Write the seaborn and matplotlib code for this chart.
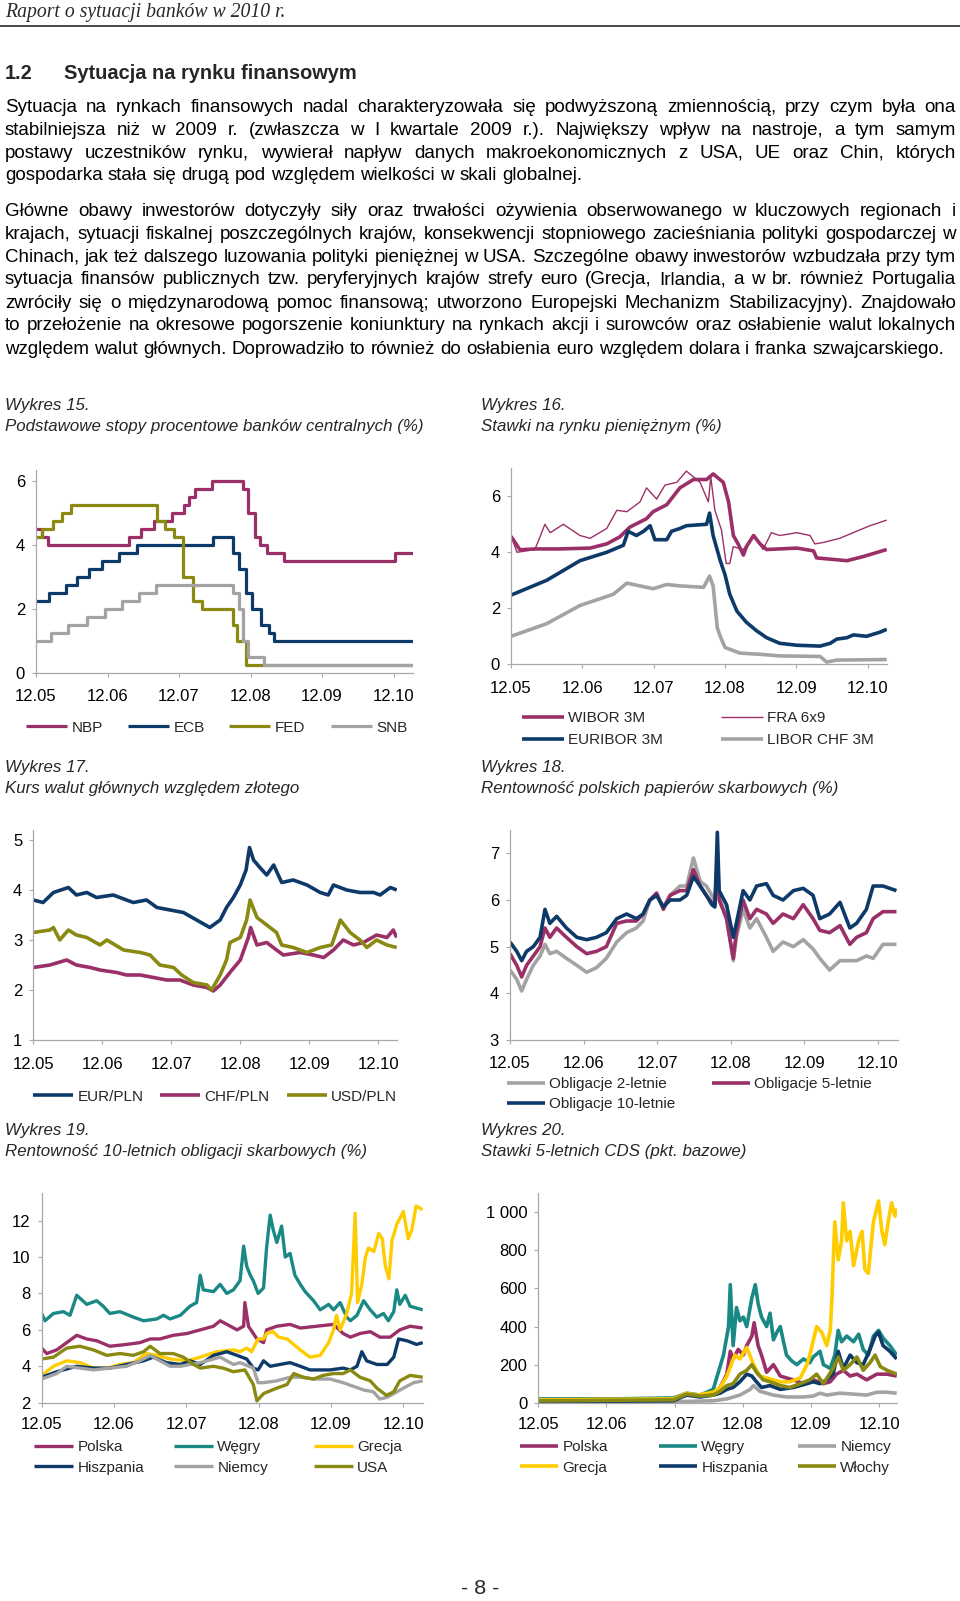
import matplotlib
matplotlib.use("Agg")
import matplotlib.pyplot as plt
import seaborn as sns
import pandas as pd
from matplotlib.lines import Line2D

# ---------------------------------------------------------------- data
XTICK_M = [0, 12, 24, 36, 48, 60]
XTICK_LABELS = ["12.05", "12.06", "12.07", "12.08", "12.09", "12.10"]

# Wykres 15 - policy rates (step data, month index from 12.05)
NBP_M = [0, 1, 2, 15.6, 17.7, 19.8, 22.9, 24.9, 25.7, 26.6, 29.6, 34.7, 35.6, 36.7, 37.5, 38.7, 41.6, 60.3, 63.2]
NBP_V = [4.5, 4.25, 4.0, 4.25, 4.5, 4.75, 5.0, 5.25, 5.5, 5.75, 6.0, 5.75, 5.0, 4.25, 4.0, 3.75, 3.5, 3.75, 3.75]
ECB_M = [0, 2.1, 5.0, 6.9, 8.9, 11.0, 14.0, 16.9, 29.7, 33.0, 34.0, 35.2, 36.3, 37.8, 39.1, 40.0, 63.2]
ECB_V = [2.25, 2.5, 2.75, 3.0, 3.25, 3.5, 3.75, 4.0, 4.25, 3.75, 3.25, 2.5, 2.0, 1.5, 1.25, 1.0, 1.0]
FED_M = [0, 1.0, 2.8, 4.3, 5.8, 20.3, 21.6, 23.2, 24.6, 26.4, 27.8, 33.1, 33.7, 35.3, 63.2]
FED_V = [4.25, 4.5, 4.75, 5.0, 5.25, 4.75, 4.5, 4.25, 3.0, 2.25, 2.0, 1.5, 1.0, 0.25, 0.25]
SNB_M = [0, 2.6, 5.4, 8.5, 11.5, 14.4, 17.2, 20.2, 33.1, 34.1, 34.7, 35.6, 38.2, 63.2]
SNB_V = [1.0, 1.25, 1.5, 1.75, 2.0, 2.25, 2.5, 2.75, 2.5, 2.0, 1.0, 0.5, 0.25, 0.25]

# Wykres 16 - money market rates
WIBOR_M = [0, 1.5, 4, 8, 13.3, 16.1, 18.3, 20.0, 22.8, 23.9, 26.2, 28.4, 30.7, 32.9, 34.0, 35.7, 36.6, 37.4, 38.2,
           39.1, 39.6, 40.8, 41.9, 43.0, 48.1, 50.9, 51.4, 56.5, 59.3, 63.2]
WIBOR_V = [4.57, 4.09, 4.12, 4.12, 4.15, 4.3, 4.55, 4.9, 5.2, 5.45, 5.7, 6.3, 6.6, 6.6, 6.8, 6.5, 5.8, 4.6, 4.3,
           3.9, 4.2, 4.6, 4.3, 4.1, 4.15, 4.05, 3.8, 3.7, 3.85, 4.1]
FRA_M = [0, 1.0, 4.0, 4.6, 5.7, 6.6, 8.8, 11.6, 13.3, 16.1, 17.8, 19.5, 21.7, 22.8, 24.5, 25.9, 27.9, 29.5, 31.8,
         33.2, 33.6, 34.3, 35.4, 36.2, 36.8, 37.4, 39.1, 40.8, 42.4, 43.8, 45.2, 48.1, 50.3, 51.1, 52.5, 55.3, 58.1,
         60.4, 63.2]
FRA_V = [4.6, 4.0, 4.1, 4.4, 5.0, 4.7, 5.0, 4.6, 4.5, 4.85, 5.5, 5.45, 5.8, 6.3, 5.9, 6.4, 6.5, 6.9, 6.5,
         5.8, 6.7, 5.5, 4.8, 3.6, 3.6, 4.2, 4.1, 4.6, 4.1, 4.7, 4.6, 4.7, 4.6, 4.3, 4.35, 4.5, 4.75,
         4.95, 5.15]
EURIBOR_M = [0, 6.0, 11.6, 16.1, 18.9, 19.7, 21.1, 22.3, 23.4, 24.2, 26.2, 27.0, 28.4, 29.5, 32.9, 33.4, 34.0, 35.2,
             36.0, 36.8, 38.0, 39.6, 41.3, 43.0, 45.2, 48.1, 52.0, 53.7, 54.8, 56.5, 57.6, 59.8, 62.1, 63.2]
EURIBOR_V = [2.47, 3.0, 3.7, 4.0, 4.25, 4.75, 4.6, 4.75, 4.95, 4.45, 4.45, 4.75, 4.85, 4.95, 5.0, 5.4, 4.6, 3.7,
             3.2, 2.5, 1.9, 1.5, 1.2, 0.95, 0.75, 0.68, 0.65, 0.75, 0.9, 0.95, 1.05, 1.0, 1.15, 1.25]
LIBOR_M = [0, 6.0, 11.6, 17.2, 19.5, 22.8, 23.9, 26.2, 28.4, 32.4, 33.4, 34.0, 34.7, 35.2, 36.0, 38.5, 42.4, 45.2,
           52.0, 53.1, 54.8, 63.2]
LIBOR_V = [1.0, 1.45, 2.1, 2.5, 2.9, 2.75, 2.7, 2.85, 2.8, 2.75, 3.15, 2.8, 1.3, 1.0, 0.6, 0.4, 0.35, 0.3,
           0.28, 0.08, 0.15, 0.17]

# Wykres 17 - exchange rates
EURPLN_M = [0, 1.7, 3.5, 6.1, 7.5, 9.3, 11.0, 13.9, 16.2, 17.4, 19.7, 21.5, 23.8, 26.1, 28.4, 30.7, 32.5, 33.6, 34.8,
            36.0, 37.0, 37.6, 38.3, 39.4, 40.6, 41.8, 43.2, 45.2, 47.6, 49.9, 51.3, 52.2, 54.5, 56.8, 59.2, 60.3,
            62.1, 63.2]
EURPLN_V = [3.8, 3.75, 3.95, 4.05, 3.9, 3.95, 3.85, 3.9, 3.8, 3.75, 3.8, 3.65, 3.6, 3.55, 3.4, 3.25, 3.4, 3.65, 3.85,
            4.1, 4.4, 4.85, 4.6, 4.45, 4.3, 4.5, 4.15, 4.2, 4.1, 3.95, 3.9, 4.1, 4.0, 3.95, 3.95, 3.9, 4.05, 4.0]
CHFPLN_M = [0, 2.9, 5.8, 7.5, 9.9, 11.6, 14.5, 16.2, 18.6, 20.9, 23.2, 25.5, 27.8, 30.2, 31.3, 32.5, 34.2, 36.0,
            37.4, 37.8, 38.9, 40.6, 42.3, 43.5, 46.4, 48.7, 50.5, 52.2, 53.9, 55.7, 57.4, 59.7, 61.5, 62.6, 63.2]
CHFPLN_V = [2.45, 2.5, 2.6, 2.5, 2.45, 2.4, 2.35, 2.3, 2.3, 2.25, 2.2, 2.2, 2.1, 2.05, 1.98, 2.1, 2.35, 2.6,
            3.05, 3.25, 2.9, 2.95, 2.8, 2.7, 2.75, 2.7, 2.65, 2.8, 3.0, 2.9, 2.95, 3.1, 3.05, 3.2, 3.05]
USDPLN_M = [0, 2.9, 3.5, 4.6, 6.1, 7.5, 9.3, 11.6, 12.8, 15.7, 18.6, 20.3, 22.0, 24.4, 25.8, 27.8, 30.2, 31.0, 32.5,
            33.6, 34.2, 36.0, 37.1, 37.7, 38.9, 40.6, 42.3, 43.2, 45.2, 47.6, 49.9, 51.9, 53.4, 55.1, 56.8, 58.0,
            59.7, 61.5, 63.2]
USDPLN_V = [3.15, 3.2, 3.25, 3.0, 3.2, 3.1, 3.05, 2.9, 3.0, 2.8, 2.75, 2.7, 2.5, 2.45, 2.3, 2.15, 2.1, 2.0, 2.3,
            2.6, 2.95, 3.05, 3.4, 3.8, 3.45, 3.3, 3.15, 2.9, 2.85, 2.75, 2.85, 2.9, 3.4, 3.15, 3.0, 2.85,
            3.0, 2.9, 2.85]

# Wykres 18 - Polish treasury yields
BOND_M = [0, 1.1, 1.9, 2.7, 3.8, 4.9, 5.7, 6.5, 7.6, 9.2, 10.9, 12.5, 14.1, 15.7, 17.4, 19.0, 20.6, 21.7, 22.8, 23.9,
          25.0, 26.1, 27.7, 28.8, 29.9, 31.0, 32.0, 32.9, 33.4, 33.8, 34.1, 35.3, 36.4, 36.9, 38.0, 39.1, 40.2, 41.8,
          42.9, 44.5, 46.2, 47.8, 49.4, 50.5, 52.1, 53.8, 55.4, 56.5, 58.1, 59.2, 60.8, 63.0]
BOND2_V = [4.5, 4.3, 4.05, 4.3, 4.6, 4.8, 5.05, 4.85, 4.9, 4.75, 4.6, 4.45, 4.55, 4.75, 5.1, 5.3, 5.4, 5.55, 6.0, 6.1,
           5.85, 6.1, 6.3, 6.3, 6.9, 6.4, 6.3, 6.1, 6.0, 6.5, 6.1, 5.6, 4.7, 5.2, 5.8, 5.4, 5.6, 5.2, 4.9, 5.1,
           5.0, 5.15, 4.95, 4.75, 4.5, 4.7, 4.7, 4.7, 4.8, 4.75, 5.05, 5.05]
BOND5_V = [4.85, 4.6, 4.35, 4.6, 4.8, 5.0, 5.4, 5.2, 5.4, 5.2, 5.0, 4.85, 4.9, 5.0, 5.5, 5.55, 5.55, 5.7, 6.0, 6.15,
           5.8, 6.1, 6.2, 6.2, 6.65, 6.3, 6.1, 5.95, 5.9, 6.9, 6.0, 5.6, 4.75, 5.3, 6.0, 5.6, 5.8, 5.7, 5.5, 5.7,
           5.6, 5.9, 5.6, 5.35, 5.3, 5.45, 5.05, 5.2, 5.3, 5.6, 5.75, 5.75]
BOND10_V = [5.1, 4.9, 4.7, 4.9, 5.0, 5.2, 5.8, 5.5, 5.65, 5.4, 5.2, 5.15, 5.2, 5.3, 5.6, 5.7, 5.6, 5.7, 6.0, 6.1,
            5.85, 6.0, 6.0, 6.1, 6.5, 6.3, 6.1, 5.9, 5.85, 7.45, 6.2, 5.9, 5.2, 5.5, 6.2, 6.0, 6.3, 6.35, 6.1, 6.0,
            6.2, 6.25, 6.1, 5.6, 5.7, 5.95, 5.4, 5.5, 5.8, 6.3, 6.3, 6.2]

# Wykres 19 - 10Y government bond yields
Y_PL_M = [0, 0.83, 2.49, 4.15, 5.81, 7.47, 9.13, 11.3, 14.1, 16.3, 18.0, 19.6, 21.8, 24.1, 26.3, 28.5, 29.6, 31.3,
          32.4, 33.5, 33.7, 34.3, 35.7, 36.8, 37.3, 39.0, 41.2, 42.9, 45.6, 48.4, 50.0, 51.2, 52.8, 54.5, 56.1, 57.8,
          59.4, 61.1, 63.2]
Y_PL_V = [5.0, 4.7, 4.9, 5.3, 5.7, 5.5, 5.4, 5.1, 5.2, 5.3, 5.5, 5.5, 5.7, 5.8, 6.0, 6.2, 6.5, 6.2, 6.0, 6.2,
          7.5, 6.2, 5.5, 5.3, 6.0, 6.2, 6.3, 6.1, 6.2, 6.3, 5.8, 5.6, 5.8, 5.9, 5.6, 5.6, 6.0, 6.2, 6.1]
Y_HU_M = [0, 0.55, 1.94, 3.59, 4.70, 5.81, 7.47, 9.13, 10.2, 11.3, 13.0, 15.2, 16.9, 19.1, 20.2, 21.3, 23.0, 24.6,
          25.7, 26.3, 26.8, 28.5, 29.6, 30.7, 31.8, 32.9, 33.5, 34.0, 34.6, 35.1, 35.9, 36.8, 37.3, 37.9, 38.4, 39.0,
          39.8, 40.4, 41.2, 42.0, 42.9, 43.7, 45.1, 46.2, 47.6, 48.4, 49.5, 50.6, 51.2, 52.3, 53.4, 54.5, 55.6, 56.7,
          57.5, 58.4, 58.9, 59.4, 60.3, 61.1, 63.2]
Y_HU_V = [6.9, 6.5, 6.9, 7.0, 6.8, 7.9, 7.4, 7.6, 7.3, 6.9, 7.0, 6.7, 6.5, 6.6, 6.8, 6.6, 6.8, 7.3, 7.5, 9.0,
          8.2, 8.1, 8.5, 8.0, 8.2, 8.7, 10.6, 9.5, 9.0, 8.7, 8.0, 8.3, 10.5, 12.3, 11.5, 10.8, 11.7, 10.0, 10.2, 9.0,
          8.5, 8.1, 7.6, 7.1, 7.4, 7.1, 7.5, 6.7, 6.5, 6.8, 7.6, 7.1, 6.7, 6.9, 6.5, 7.0, 8.2, 7.4, 7.9, 7.3, 7.1]
Y_GR_M = [0, 1.94, 4.15, 6.36, 8.57, 10.8, 13.0, 15.2, 17.4, 19.1, 21.3, 24.1, 26.3, 29.0, 31.8, 32.9, 34.0, 34.8,
          35.9, 36.8, 37.3, 38.4, 39.3, 40.7, 41.8, 42.9, 44.5, 46.2, 47.6, 48.4, 48.9, 49.5, 50.6, 51.4, 52.0, 52.4,
          53.1, 53.7, 54.2, 55.1, 55.9, 56.5, 57.0, 57.6, 58.1, 58.9, 60.0, 60.8, 61.4, 62.1, 63.2]
Y_GR_V = [3.5, 4.0, 4.3, 4.2, 3.9, 3.9, 4.1, 4.2, 4.7, 4.6, 4.4, 4.3, 4.5, 4.8, 4.9, 4.8, 5.0, 4.8, 5.5, 5.5,
          5.8, 5.9, 5.6, 5.5, 5.2, 4.9, 4.5, 4.6, 5.3, 6.0, 6.8, 6.0, 6.9, 8.0, 12.4, 7.5, 8.5, 10.0, 10.5, 10.3,
          11.3, 11.0, 9.5, 8.8, 10.9, 11.8, 12.5, 11.0, 11.5, 12.8, 12.6]
Y_ES_M = [0, 2.49, 5.81, 8.57, 11.3, 14.1, 16.9, 18.5, 20.7, 23.0, 24.6, 26.3, 28.5, 30.7, 32.4, 34.0, 35.1, 35.9,
          36.8, 37.9, 39.5, 41.2, 42.9, 44.5, 46.2, 47.8, 50.0, 51.2, 52.3, 53.1, 53.9, 55.6, 57.3, 58.4, 59.2, 60.6,
          62.2, 63.2]
Y_ES_V = [3.4, 3.7, 4.0, 3.9, 3.9, 4.1, 4.3, 4.5, 4.2, 4.1, 4.3, 4.1, 4.6, 4.8, 4.6, 4.4, 3.9, 3.8, 4.3, 4.0,
          4.1, 4.2, 4.0, 3.8, 3.8, 3.8, 3.9, 3.8, 4.0, 4.8, 4.3, 4.1, 4.1, 4.5, 5.5, 5.4, 5.2, 5.3]
Y_DE_M = [0, 2.49, 4.15, 6.36, 8.57, 11.3, 14.1, 16.3, 18.0, 19.6, 21.3, 23.0, 24.6, 26.3, 28.5, 29.6, 31.8, 32.9,
          35.1, 35.9, 36.8, 39.0, 41.2, 42.9, 45.1, 47.8, 50.0, 51.7, 53.4, 55.0, 56.1, 57.3, 58.4, 60.0, 61.7, 63.2]
Y_DE_V = [3.3, 3.6, 4.0, 3.9, 3.8, 3.9, 4.0, 4.3, 4.6, 4.3, 4.0, 4.0, 4.1, 4.2, 4.4, 4.5, 4.1, 4.2, 3.9, 3.1,
          3.1, 3.2, 3.4, 3.4, 3.3, 3.3, 3.1, 2.9, 2.7, 2.6, 2.2, 2.3, 2.5, 2.8, 3.1, 3.2]
Y_US_M = [0, 1.94, 4.15, 6.36, 8.57, 10.8, 13.0, 15.2, 16.9, 18.0, 19.6, 21.8, 23.5, 25.2, 26.3, 28.5, 30.1, 31.8,
          33.7, 35.1, 35.7, 36.8, 39.0, 40.7, 41.8, 43.4, 45.1, 46.7, 48.4, 50.0, 51.2, 52.8, 54.5, 55.6, 57.2, 58.4,
          59.4, 61.1, 63.2]
Y_US_V = [4.4, 4.5, 5.0, 5.1, 4.9, 4.6, 4.7, 4.6, 4.8, 5.1, 4.7, 4.7, 4.5, 4.1, 3.9, 4.0, 3.9, 3.7, 3.8, 3.0,
          2.1, 2.5, 2.8, 3.0, 3.6, 3.4, 3.3, 3.5, 3.6, 3.6, 3.8, 3.4, 3.2, 2.8, 2.4, 2.6, 3.2, 3.5, 3.4]

# Wykres 20 - 5Y CDS (bp)
CDS_PL_M = [0, 23.8, 26.1, 28.5, 30.8, 32.0, 33.2, 33.8, 34.3, 35.2, 36.1, 36.7, 37.6, 38.0, 38.7, 39.3, 40.2, 41.4,
            42.6, 43.7, 44.9, 46.7, 48.4, 50.2, 51.4, 52.5, 53.7, 54.9, 56.1, 57.8, 59.6, 61.4, 63.1]
CDS_PL_V = [15, 20, 40, 40, 50, 80, 150, 270, 230, 280, 250, 300, 350, 420, 300, 250, 160, 200,
            140, 130, 120, 100, 120, 100, 110, 150, 170, 140, 150, 120, 150, 150, 140]
CDS_HU_M = [0, 13.2, 23.8, 26.1, 28.5, 30.8, 31.4, 32.6, 33.5, 33.8, 34.3, 34.9, 35.5, 36.1, 36.7, 37.6, 38.2, 38.7,
            39.3, 40.2, 40.8, 41.4, 42.0, 42.6, 43.1, 43.7, 44.6, 45.5, 46.7, 47.8, 48.4, 49.6, 50.2, 51.4, 52.2,
            52.8, 53.4, 54.3, 55.5, 56.4, 57.2, 58.1, 59.0, 59.9, 60.7, 61.9, 63.1]
CDS_HU_V = [20, 20, 25, 50, 40, 70, 130, 250, 400, 620, 300, 500, 430, 450, 400, 550, 620, 520,
            450, 400, 470, 330, 370, 400, 330, 250, 220, 200, 230, 210, 240, 270, 200, 180, 250,
            380, 320, 350, 320, 360, 280, 250, 350, 380, 340, 300, 250]
CDS_DE_M = [0, 23.8, 30.8, 33.2, 35.5, 37.3, 37.9, 39.0, 41.4, 43.7, 46.7, 48.4, 49.6, 50.8, 51.9, 53.1, 55.5, 57.8,
            59.6, 61.4, 63.1]
CDS_DE_V = [3, 5, 10, 20, 40, 70, 90, 60, 40, 30, 30, 35, 50, 40, 45, 50, 45, 40, 55, 55, 50]
CDS_GR_M = [0, 23.8, 26.1, 27.9, 30.8, 32.0, 33.2, 34.6, 35.5, 36.7, 37.9, 39.0, 40.2, 41.4, 42.6, 44.3, 46.1, 47.3,
            47.8, 49.0, 49.9, 50.8, 51.4, 51.7, 52.0, 52.2, 52.8, 53.4, 53.7, 54.3, 54.9, 55.5, 56.4, 57.0, 57.5,
            58.1, 59.0, 59.9, 60.5, 61.0, 61.6, 62.2, 62.8, 63.1]
CDS_GR_V = [15, 20, 50, 40, 55, 80, 140, 250, 230, 290, 200, 140, 130, 120, 110, 110, 130, 200,
            250, 400, 370, 300, 380, 550, 800, 950, 750, 850, 1050, 850, 900, 720, 850, 900, 700,
            680, 950, 1060, 900, 830, 950, 1050, 980, 1020]
CDS_ES_M = [0, 23.8, 26.1, 28.5, 30.8, 32.0, 33.2, 34.3, 35.5, 36.7, 37.6, 38.4, 39.3, 40.8, 42.6, 44.9, 47.3, 48.4,
            49.6, 50.8, 51.9, 52.8, 53.7, 54.9, 56.1, 57.2, 58.4, 59.3, 59.9, 60.7, 61.9, 63.1]
CDS_ES_V = [5, 10, 40, 30, 40, 50, 70, 80, 110, 150, 140, 110, 80, 90, 70, 80, 100, 110,
            100, 120, 150, 270, 180, 250, 210, 200, 280, 350, 370, 300, 270, 230]
CDS_IT_M = [0, 23.8, 26.1, 28.5, 30.8, 32.0, 33.2, 34.3, 35.5, 36.7, 37.6, 38.4, 39.6, 40.8, 42.6, 44.3, 46.1, 47.8,
            49.0, 50.2, 51.9, 52.8, 53.7, 54.9, 56.1, 57.2, 58.4, 59.3, 60.2, 61.4, 63.1]
CDS_IT_V = [10, 15, 45, 35, 40, 60, 90, 100, 150, 170, 200, 160, 120, 110, 90, 80, 100, 120,
            150, 100, 180, 240, 170, 200, 240, 170, 210, 250, 190, 170, 150]

# ---------------------------------------------------------------- text
HEADER = "Raport o sytuacji banków w 2010 r."
SECTION_NO = "1.2"
SECTION_TITLE = "Sytuacja na rynku finansowym"
PARA1 = [
    "Sytuacja na rynkach finansowych nadal charakteryzowała się podwyższoną zmiennością, przy czym była ona",
    "stabilniejsza niż w 2009 r. (zwłaszcza w I kwartale 2009 r.). Największy wpływ na nastroje, a tym samym",
    "postawy uczestników rynku, wywierał napływ danych makroekonomicznych z USA, UE oraz Chin, których",
    "gospodarka stała się drugą pod względem wielkości w skali globalnej.",
]
PARA2 = [
    "Główne obawy inwestorów dotyczyły siły oraz trwałości ożywienia obserwowanego w kluczowych regionach i",
    "krajach, sytuacji fiskalnej poszczególnych krajów, konsekwencji stopniowego zacieśniania polityki gospodarczej w",
    "Chinach, jak też dalszego luzowania polityki pieniężnej w USA. Szczególne obawy inwestorów wzbudzała przy tym",
    "sytuacja finansów publicznych tzw. peryferyjnych krajów strefy euro (Grecja, Irlandia, a w br. również Portugalia",
    "zwróciły się o międzynarodową pomoc finansową; utworzono Europejski Mechanizm Stabilizacyjny). Znajdowało",
    "to przełożenie na okresowe pogorszenie koniunktury na rynkach akcji i surowców oraz osłabienie walut lokalnych",
    "względem walut głównych. Doprowadziło to również do osłabienia euro względem dolara i franka szwajcarskiego.",
]
CAPTIONS = [
    ("Wykres 15.", "Podstawowe stopy procentowe banków centralnych (%)"),
    ("Wykres 16.", "Stawki na rynku pieniężnym (%)"),
    ("Wykres 17.", "Kurs walut głównych względem złotego"),
    ("Wykres 18.", "Rentowność polskich papierów skarbowych (%)"),
    ("Wykres 19.", "Rentowność 10-letnich obligacji skarbowych (%)"),
    ("Wykres 20.", "Stawki 5-letnich CDS (pkt. bazowe)"),
]
PAGE_NO = "- 8 -"

# ---------------------------------------------------------------- style
MAGENTA = "#9B3068"
NAVY = "#0E3A69"
OLIVE = "#8A8912"
GRAY = "#A3A3A3"
TEAL = "#1A8884"
YELLOW = "#FFCC00"
AXC = "#A8A8A8"

sns.set_theme(style="white")
plt.rcParams["font.family"] = ["Liberation Sans", "DejaVu Sans"]

W, H = 960, 1601
fig = plt.figure(figsize=(W / 100, H / 100), dpi=100)
fig.patch.set_facecolor("white")
R = fig.canvas.get_renderer()


def fx(px):
    return px / W


def fy(py):
    return 1 - py / H


def text_width(s, size, **kw):
    t = fig.text(0, 0, s, fontsize=size, **kw)
    w = t.get_window_extent(renderer=R).width
    t.remove()
    return w


def fit_size(s, target, **kw):
    return 12.0 * target / text_width(s, 12.0, **kw)


# ---------------------------------------------------------------- page header
hsize = fit_size(HEADER, 281, family="Liberation Serif", style="italic")
fig.text(fx(5), fy(13), HEADER, fontsize=hsize, family="Liberation Serif", style="italic",
         color="#2a2a2a", va="center", ha="left")
fig.add_artist(Line2D([0, 1], [fy(26), fy(26)], transform=fig.transFigure, color="#3a3a3a", lw=1.3))

ssize = fit_size(SECTION_TITLE, 291, weight="bold")
fig.text(fx(5), fy(79), SECTION_NO, fontsize=ssize, weight="bold", va="baseline", ha="left")
fig.text(fx(64), fy(79), SECTION_TITLE, fontsize=ssize, weight="bold", va="baseline", ha="left")

# ---------------------------------------------------------------- body text (justified)
X0, X1 = 5, 956
AVAIL = X1 - X0
body = fit_size(PARA2[-1], 944)
for lines in (PARA1, PARA2):
    for ln in lines[:-1]:
        words = ln.split(" ")
        ws = sum(text_width(w, 12.0) for w in words)
        sp = text_width("a a", 12.0) - text_width("aa", 12.0)
        need = ws + 0.75 * sp * (len(words) - 1)
        body = min(body, 12.0 * AVAIL / need)
SPACE = text_width("a a", body) - text_width("aa", body)


def put_line(line, yc, justify):
    words = line.split(" ")
    widths = [text_width(w, body) for w in words]
    if justify and len(words) > 1:
        gap = (AVAIL - sum(widths)) / (len(words) - 1)
    else:
        gap = SPACE
    x = X0
    for w, wd in zip(words, widths):
        fig.text(fx(x), fy(yc + 5), w, fontsize=body, va="baseline", ha="left", color="black")
        x += wd + gap


P1_Y = [107.5, 130.0, 152.5, 175.5]
P2_Y = [211.5, 234.0, 256.5, 279.5, 302.5, 325.0, 348.5]
for lines, ys in ((PARA1, P1_Y), (PARA2, P2_Y)):
    for i, (ln, yc) in enumerate(zip(lines, ys)):
        put_line(ln, yc, i < len(lines) - 1)

# ---------------------------------------------------------------- captions
csize = fit_size(CAPTIONS[0][1], 417, style="italic")
CAP_POS = [(5, 405.5), (481, 405.5), (5, 767.5), (481, 767.5), (5, 1131), (481, 1131)]
for (a, b), (cx, cy) in zip(CAPTIONS, CAP_POS):
    fig.text(fx(cx), fy(cy), a, fontsize=csize, style="italic", va="center", ha="left")
    fig.text(fx(cx), fy(cy + 20.5), b, fontsize=csize, style="italic", va="center", ha="left")

psize = fit_size(PAGE_NO, 38)
fig.text(fx(480), fy(1588), PAGE_NO, fontsize=psize, va="center", ha="center")


# ---------------------------------------------------------------- chart helpers
def make_ax(x0, x1, ytop, ybot):
    return fig.add_axes([fx(x0), fy(ybot), (x1 - x0) / W, (ybot - ytop) / H])


def style_ax(ax, xmax, ylim, yticks, ylabels, xlab_dy):
    ax.set_xlim(0, xmax)
    ax.set_ylim(*ylim)
    ax.set_xticks(XTICK_M)
    ax.set_xticklabels(XTICK_LABELS)
    ax.set_yticks(yticks)
    ax.set_yticklabels(ylabels)
    ax.set_xlabel("")
    ax.set_ylabel("")
    ax.grid(False)
    ax.set_facecolor("none")
    for s in ("top", "right"):
        ax.spines[s].set_visible(False)
    for s in ("left", "bottom"):
        ax.spines[s].set_color(AXC)
        ax.spines[s].set_linewidth(0.9)
    ax.tick_params(axis="both", which="major", bottom=True, left=True, length=3, width=0.8,
                   color=AXC, labelsize=12, labelcolor="black", direction="out")
    pad_px = xlab_dy - 6.0 - 4.2
    ax.tick_params(axis="x", pad=pad_px * 0.72)
    ax.tick_params(axis="y", pad=4.9)


def series(ax, m, v, color, lw, step=False):
    df = pd.DataFrame({"m": m, "v": v})
    kw = {"drawstyle": "steps-post"} if step else {}
    sns.lineplot(data=df, x="m", y="v", ax=ax, color=color, linewidth=lw, estimator=None,
                 sort=False, legend=False, **kw)
    line = ax.lines[-1]
    line.set_solid_joinstyle("round")
    line.set_solid_capstyle("butt")
    return line


def legend_item(handle, label, x_px, y_px, hl_px, fs=11):
    fs_px = fs * 100 / 72
    lg = fig.legend([handle], [label], loc="center left", bbox_to_anchor=(fx(x_px), fy(y_px)),
                    frameon=False, borderpad=0, borderaxespad=0, handlelength=hl_px / fs_px,
                    handletextpad=0.28, fontsize=fs)
    return lg


# ---------------------------------------------------------------- Wykres 15
ax = make_ax(36, 412.7, 470, 672.7)
h = [series(ax, NBP_M, NBP_V, MAGENTA, 2.3, True),
     series(ax, ECB_M, ECB_V, NAVY, 2.3, True),
     series(ax, FED_M, FED_V, OLIVE, 2.3, True),
     series(ax, SNB_M, SNB_V, GRAY, 2.3, True)]
style_ax(ax, 63.2, (0, 6.35), [0, 2, 4, 6], ["0", "2", "4", "6"], 22.3)
for hd, lab, x in zip(h, ["NBP", "ECB", "FED", "SNB"], [26, 128, 229, 331]):
    legend_item(hd, lab, x, 727.7, 41)

# ---------------------------------------------------------------- Wykres 16
ax = make_ax(511, 887.3, 468.3, 664.3)
h = [series(ax, WIBOR_M, WIBOR_V, MAGENTA, 2.6),
     series(ax, FRA_M, FRA_V, MAGENTA, 1.0),
     series(ax, EURIBOR_M, EURIBOR_V, NAVY, 2.6),
     series(ax, LIBOR_M, LIBOR_V, GRAY, 2.6)]
style_ax(ax, 63.3, (0, 7), [0, 2, 4, 6], ["0", "2", "4", "6"], 22.4)
legend_item(h[0], "WIBOR 3M", 521.7, 718.3, 42)
legend_item(h[1], "FRA 6x9", 720.7, 718.3, 42)
legend_item(h[2], "EURIBOR 3M", 521.7, 740, 42)
legend_item(h[3], "LIBOR CHF 3M", 720.7, 740, 42)

# ---------------------------------------------------------------- Wykres 17
ax = make_ax(33.3, 396.7, 830, 1040)
h = [series(ax, EURPLN_M, EURPLN_V, NAVY, 2.6),
     series(ax, CHFPLN_M, CHFPLN_V, MAGENTA, 2.6),
     series(ax, USDPLN_M, USDPLN_V, OLIVE, 2.6)]
style_ax(ax, 63.2, (1, 5.2), [1, 2, 3, 4, 5], ["1", "2", "3", "4", "5"], 22.7)
for hd, lab, x in zip(h, ["EUR/PLN", "CHF/PLN", "USD/PLN"], [33, 160, 287]):
    legend_item(hd, lab, x, 1096.7, 40)

# ---------------------------------------------------------------- Wykres 18
ax = make_ax(510, 898.3, 830, 1040)
h = [series(ax, BOND_M, BOND2_V, GRAY, 2.6),
     series(ax, BOND_M, BOND5_V, MAGENTA, 2.6),
     series(ax, BOND_M, BOND10_V, NAVY, 2.6)]
style_ax(ax, 63.3, (3, 7.5), [3, 4, 5, 6, 7], ["3", "4", "5", "6", "7"], 21.7)
legend_item(h[0], "Obligacje 2-letnie", 507, 1084, 38)
legend_item(h[1], "Obligacje 5-letnie", 712, 1084, 38)
legend_item(h[2], "Obligacje 10-letnie", 507, 1104, 38)

# ---------------------------------------------------------------- Wykres 19
ax = make_ax(41.7, 422.7, 1193.3, 1402.7)
h = [series(ax, Y_PL_M, Y_PL_V, MAGENTA, 2.4),
     series(ax, Y_HU_M, Y_HU_V, TEAL, 2.4),
     series(ax, Y_GR_M, Y_GR_V, YELLOW, 2.4),
     series(ax, Y_ES_M, Y_ES_V, NAVY, 2.4),
     series(ax, Y_DE_M, Y_DE_V, GRAY, 2.4),
     series(ax, Y_US_M, Y_US_V, OLIVE, 2.4)]
style_ax(ax, 63.2, (2, 13.5), [2, 4, 6, 8, 10, 12], ["2", "4", "6", "8", "10", "12"], 20.6)
labs = ["Polska", "Węgry", "Grecja", "Hiszpania", "Niemcy", "USA"]
cols = [34, 174, 314]
for i, (hd, lab) in enumerate(zip(h, labs)):
    legend_item(hd, lab, cols[i % 3], 1447.3 if i < 3 else 1467.7, 39)

# ---------------------------------------------------------------- Wykres 20
ax = make_ax(538.3, 896.7, 1193.3, 1402.7)
h = [series(ax, CDS_PL_M, CDS_PL_V, MAGENTA, 2.6),
     series(ax, CDS_HU_M, CDS_HU_V, TEAL, 2.6),
     series(ax, CDS_DE_M, CDS_DE_V, GRAY, 2.6),
     series(ax, CDS_GR_M, CDS_GR_V, YELLOW, 2.6),
     series(ax, CDS_ES_M, CDS_ES_V, NAVY, 2.6),
     series(ax, CDS_IT_M, CDS_IT_V, OLIVE, 2.6)]
cds_ticks = [0, 200, 400, 600, 800, 1000]
style_ax(ax, 63.1, (0, 1100), cds_ticks, [f"{t:,}".replace(",", " ") for t in cds_ticks], 20.6)
labs = ["Polska", "Węgry", "Niemcy", "Grecja", "Hiszpania", "Włochy"]
cols = [520, 659, 798]
for i, (hd, lab) in enumerate(zip(h, labs)):
    legend_item(hd, lab, cols[i % 3], 1447.3 if i < 3 else 1467.7, 38)

fig.savefig("out.png", dpi=100, facecolor="white")
